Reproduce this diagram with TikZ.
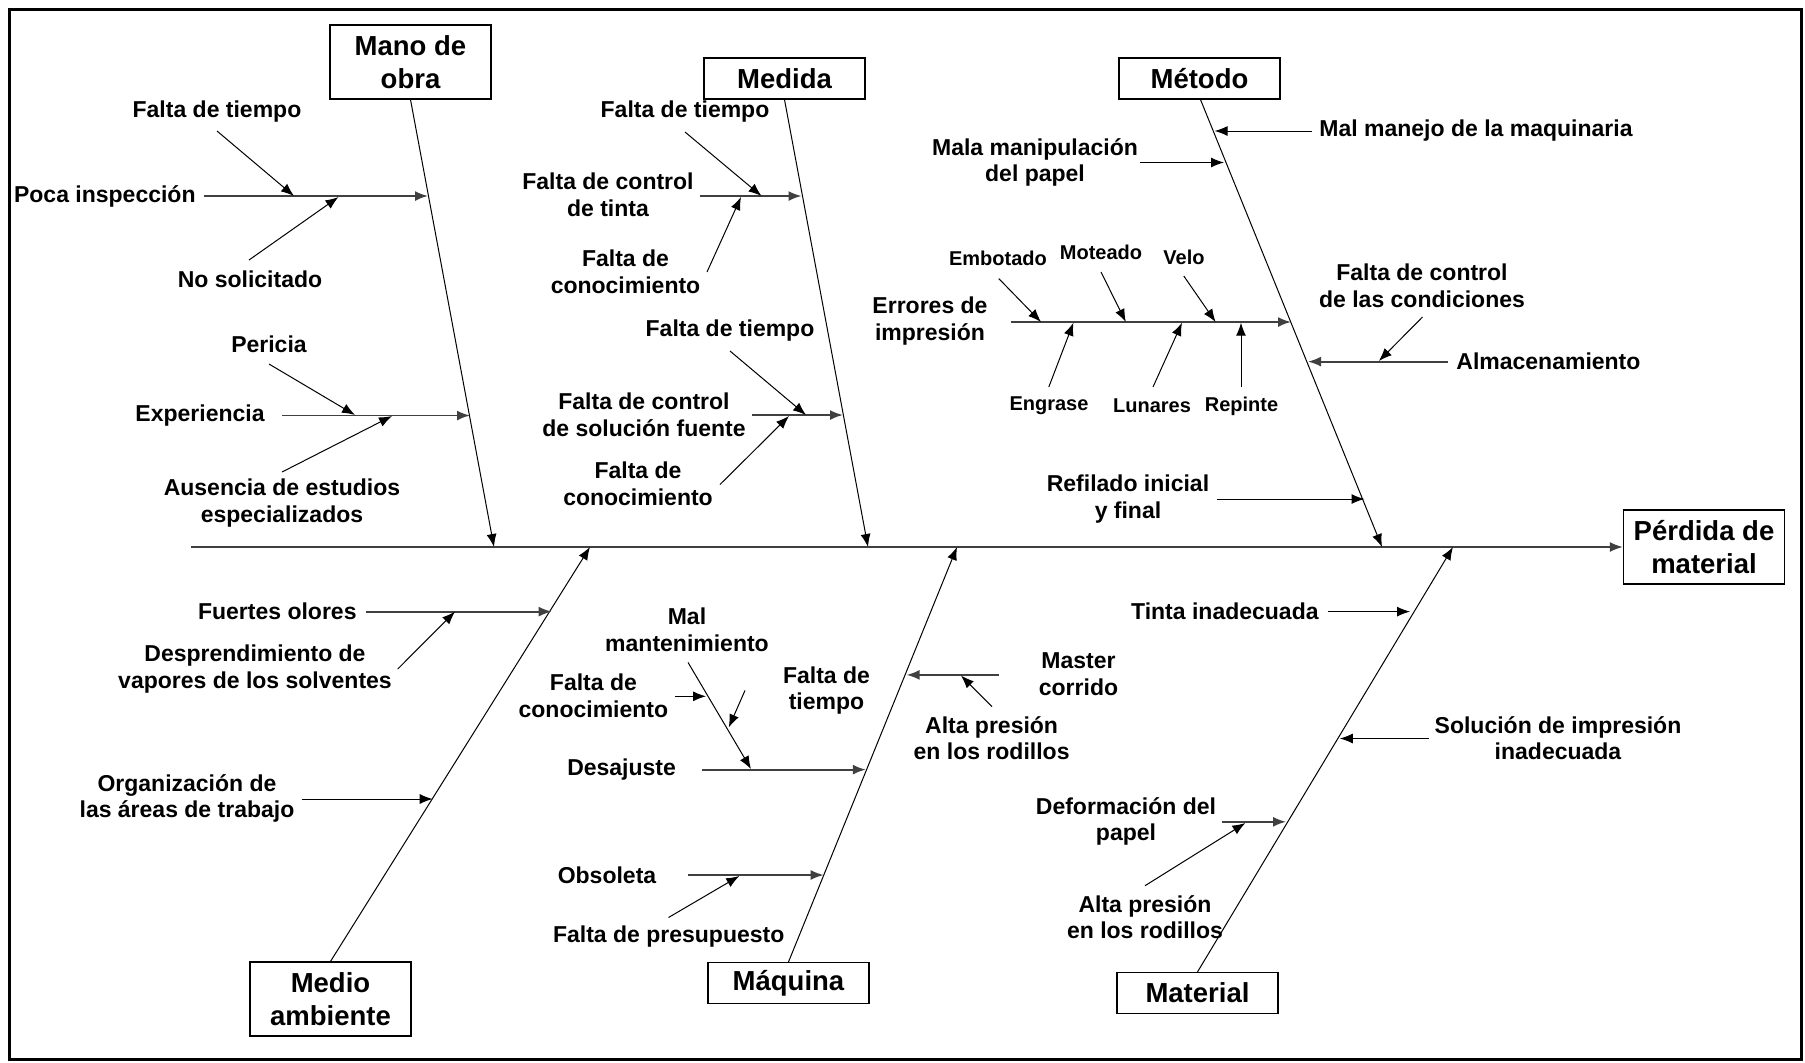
\documentclass[tikz,border=0pt]{standalone}
\usepackage{fontspec}
\setmainfont{Liberation Sans}
\usetikzlibrary{arrows.meta}

\tikzset{
  txt/.style={font=\fontsize{11.5}{13.3}\selectfont\bfseries,align=center,inner sep=0pt},
  smalltxt/.style={font=\fontsize{10}{12}\selectfont\bfseries,inner sep=0pt},
  cause/.style={draw,line width=0.6pt,font=\fontsize{13.75}{16.2}\selectfont\bfseries,align=center,minimum width=80.5pt,inner sep=0pt},
  bone/.style={->,line width=0.5pt},
  rib/.style={->,line width=0.9pt,draw=black!75},
  twig/.style={->,line width=0.5pt}
}

\begin{document}
\begin{tikzpicture}[x=0.5pt,y=-0.5pt,>={Latex[length=6.5pt,width=5pt]}]

\useasboundingbox (0,0) rectangle (1805,1062);
\draw[line width=1.5pt] (9,9) rectangle (1801,1059);

% causes
\node[cause,minimum height=37pt] (mano) at (410.5,62) {Mano de\\obra};
\node[cause,minimum height=20.5pt] (medida) at (784.5,78.5) {Medida};
\node[cause,minimum height=20.5pt] (metodo) at (1199.5,78.5) {Método};
\node[cause,minimum height=37pt] (medio) at (330.5,999) {Medio\\ambiente};
\node[cause,minimum height=20.5pt] (maquina) at (788.5,983) {Máquina};
\node[cause,minimum height=20.5pt] (material) at (1197.5,993) {Material};
\node[cause,minimum height=37pt] (perdida) at (1704,547) {Pérdida de\\material};

% spine and bones
\coordinate (s0) at (191,547);
\coordinate (s1) at (494,547);
\coordinate (s2) at (868,547);
\coordinate (s3) at (1382,547);
\coordinate (s4) at (590,547);
\coordinate (s5) at (957,547);
\coordinate (s6) at (1453,547);

\draw[rib] (s0) -- (perdida.west);
\draw[bone] (mano.south) -- (s1);
\draw[bone] (medida.south) -- (s2);
\draw[bone] ([xshift=0.5pt]metodo.south) -- (s3);
\draw[bone] (medio.north) -- (s4);
\draw[bone] (maquina.north) -- (s5);
\draw[bone] (material.north) -- (s6);

% Mano de obra
\node[txt] (m1) at (217,112) {Falta de tiempo};
\node[txt,anchor=east] (m2) at (196,196) {Poca inspección};
\node[txt] (m3) at (250,279) {No solicitado};
\node[txt] (m4) at (269,344) {Pericia};
\node[txt,anchor=east] (m5) at (265,415.5) {Experiencia};
\node[txt] (m6) at (282,503) {Ausencia de estudios\\especializados};

\coordinate (m2a) at (204,196);   \coordinate (m2b) at (428,196);
\coordinate (m1a) at (217,131);   \coordinate (m1b) at (294,196);
\coordinate (m3a) at (249,260);   \coordinate (m3b) at (338.5,197);
\coordinate (m5a) at (282,415.5); \coordinate (m5b) at (470,415.5);
\coordinate (m4a) at (269,364);   \coordinate (m4b) at (355,415);
\coordinate (m6a) at (282,472);   \coordinate (m6b) at (392,416);

\draw[rib] (m2a) -- (m2b);
\draw[twig] (m1a) -- (m1b);
\draw[twig] (m3a) -- (m3b);
\draw[rib] (m5a) -- (m5b);
\draw[twig] (m4a) -- (m4b);
\draw[twig] (m6a) -- (m6b);

% Medida
\node[txt] (d1) at (685,112) {Falta de tiempo};
\node[txt] (d2) at (608,195) {Falta de control\\de tinta};
\node[txt] (d3) at (625.5,272) {Falta de\\conocimiento};
\node[txt] (d4) at (730,331) {Falta de tiempo};
\node[txt] (d5) at (644,415) {Falta de control\\de solución fuente};
\node[txt] (d6) at (638,484) {Falta de\\conocimiento};

\coordinate (d2a) at (700,196);   \coordinate (d2b) at (801.5,196);
\coordinate (d1a) at (685,132);   \coordinate (d1b) at (761.5,196);
\coordinate (d3a) at (707,272);   \coordinate (d3b) at (741,197);
\coordinate (d5a) at (752,415);   \coordinate (d5b) at (843,415);
\coordinate (d4a) at (730,351);   \coordinate (d4b) at (806,415);
\coordinate (d6a) at (720,484.5); \coordinate (d6b) at (789,416);

\draw[rib] (d2a) -- (d2b);
\draw[twig] (d1a) -- (d1b);
\draw[twig] (d3a) -- (d3b);
\draw[rib] (d5a) -- (d5b);
\draw[twig] (d4a) -- (d4b);
\draw[twig] (d6a) -- (d6b);

% Metodo
\node[txt,anchor=west] (t1) at (1319,131) {Mal manejo de la maquinaria};
\node[txt] (t2) at (1035,162.5) {Mala manipulación\\del papel};
\node[txt] (t3) at (930,321) {Errores de\\impresión};
\node[smalltxt] (t4) at (998,258.6) {Embotado};
\node[smalltxt] (t5) at (1101,252) {Moteado};
\node[smalltxt] (t6) at (1184,257.6) {Velo};
\node[smalltxt] (t7) at (1049,406) {Engrase};
\node[smalltxt] (t8) at (1152,406) {Lunares};
\node[smalltxt] (t9) at (1241.5,406) {Repinte};
\node[txt] (t10) at (1422,285.5) {Falta de control\\de las condiciones};
\node[txt,anchor=west] (t11) at (1456,361.6) {Almacenamiento};
\node[txt] (t12) at (1128,499) {Refilado inicial\\y final};

\coordinate (t1a) at (1312,131);    \coordinate (t1b) at (1214.6,131);
\coordinate (t2a) at (1139.6,162.5);\coordinate (t2b) at (1224,162.5);
\coordinate (t3a) at (1010.5,322);  \coordinate (t3b) at (1291,322);
\coordinate (t4a) at (998.8,278.6); \coordinate (t4b) at (1041,322);
\coordinate (t5a) at (1101,272);    \coordinate (t5b) at (1125.8,322);
\coordinate (t6a) at (1183.8,276);  \coordinate (t6b) at (1215.6,322);
\coordinate (t7a) at (1048.8,387);  \coordinate (t7b) at (1073.4,322.7);
\coordinate (t8a) at (1153,387);    \coordinate (t8b) at (1182,322.7);
\coordinate (t9a) at (1241,387);    \coordinate (t9b) at (1241,322.7);
\coordinate (t11a) at (1447.6,361.6); \coordinate (t11b) at (1308,361.6);
\coordinate (t10a) at (1422.5,317); \coordinate (t10b) at (1378.9,361);
\coordinate (t12a) at (1216.6,499); \coordinate (t12b) at (1364.5,499);

\draw[twig] (t1a) -- (t1b);
\draw[twig] (t2a) -- (t2b);
\draw[rib] (t3a) -- (t3b);
\foreach \i in {4,...,9}
  \draw[twig] (t\i a) -- (t\i b);
\draw[rib] (t11a) -- (t11b);
\draw[twig] (t10a) -- (t10b);
\draw[twig] (t12a) -- (t12b);

% Medio ambiente
\node[txt,anchor=east] (a1) at (357,611.6) {Fuertes olores};
\node[txt] (a2) at (255,669) {Desprendimiento de\\vapores de los solventes};
\node[txt] (a3) at (187,798.6) {Organización de\\las áreas de trabajo};

\coordinate (a1a) at (365.8,611.6); \coordinate (a1b) at (551.7,611.6);
\coordinate (a2a) at (397.7,669);   \coordinate (a2b) at (455,611.6);
\coordinate (a3a) at (301.6,799);   \coordinate (a3b) at (432.7,799);

\draw[rib] (a1a) -- (a1b);
\draw[twig] (a2a) -- (a2b);
\draw[twig] (a3a) -- (a3b);

% Maquina
\node[txt] (q1) at (687,630) {Mal\\mantenimiento};
\node[txt] (q2) at (593.4,696) {Falta de\\conocimiento};
\node[txt] (q3) at (826.5,690.5) {Falta de\\tiempo};
\node[txt] (q4) at (621.6,769.6) {Desajuste};
\node[txt] (q5) at (1078.5,674.3) {Master\\corrido};
\node[txt] (q6) at (991.6,738) {Alta presión\\en los rodillos};
\node[txt] (q7) at (607,875) {Obsoleta};
\node[txt] (q8) at (668.7,936.5) {Falta de presupuesto};

\coordinate (q4a) at (702,769.6);   \coordinate (q4b) at (865.8,769.6);
\coordinate (q1a) at (688,662.4);   \coordinate (q1b) at (751,769);
\coordinate (q2a) at (675,696.3);   \coordinate (q2b) at (706,696.3);
\coordinate (q3a) at (745,690.4);   \coordinate (q3b) at (728.8,727.4);
\coordinate (q5a) at (998.8,674.9); \coordinate (q5b) at (906.6,674.9);
\coordinate (q6a) at (992,706.7);   \coordinate (q6b) at (961,675.5);
\coordinate (q7a) at (688,875);     \coordinate (q7b) at (823.7,875);
\coordinate (q8a) at (668.5,917.5); \coordinate (q8b) at (739.3,876);

\draw[rib] (q4a) -- (q4b);
\draw[twig] (q1a) -- (q1b);
\draw[twig] (q2a) -- (q2b);
\draw[twig] (q3a) -- (q3b);
\draw[rib] (q5a) -- (q5b);
\draw[twig] (q6a) -- (q6b);
\draw[rib] (q7a) -- (q7b);
\draw[twig] (q8a) -- (q8b);

% Material
\node[txt,anchor=east] (l1) at (1319,611.6) {Tinta inadecuada};
\node[txt] (l2) at (1558,738) {Solución de impresión\\inadecuada};
\node[txt] (l3) at (1126,821.3) {Deformación del\\papel};
\node[txt] (l4) at (1145,917) {Alta presión\\en los rodillos};

\coordinate (l1a) at (1327.5,611.6); \coordinate (l1b) at (1410,611.6);
\coordinate (l2a) at (1428.6,738.5); \coordinate (l2b) at (1339.8,738.5);
\coordinate (l3a) at (1222.3,821.8); \coordinate (l3b) at (1286,821.8);
\coordinate (l4a) at (1145,885.7);   \coordinate (l4b) at (1245.4,823);

\draw[twig] (l1a) -- (l1b);
\draw[twig] (l2a) -- (l2b);
\draw[rib] (l3a) -- (l3b);
\draw[twig] (l4a) -- (l4b);

\end{tikzpicture}
\end{document}
